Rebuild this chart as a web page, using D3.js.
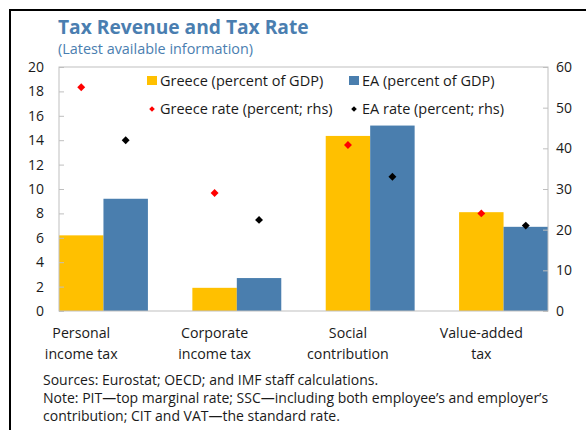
<!DOCTYPE html>
<html>
<head>
<meta charset="utf-8">
<script src="https://cdn.jsdelivr.net/npm/d3@7"></script>
<style>
  body { margin: 0; background: #fff; }
  svg { font-family: "Open Sans", "Noto Sans", sans-serif; }
</style>
</head>
<body>
<svg id="chart" width="586" height="430"></svg>
<script>
const width = 586, height = 430;

// data
const categories = ['Personal income tax', 'Corporate income tax', 'Social contribution', 'Value-added tax'];
const catLabels = [['Personal', 'income tax'], ['Corporate', 'income tax'], ['Social', 'contribution'], ['Value-added', 'tax']];
const greeceGDP = [6.2, 1.9, 14.35, 8.1];
const eaGDP = [9.2, 2.7, 15.2, 6.9];
const greeceRate = [55, 29, 40.8, 24];
const eaRate = [42, 22.4, 33, 21];
const leftTicks = [0, 2, 4, 6, 8, 10, 12, 14, 16, 18, 20];
const rightTicks = [0, 10, 20, 30, 40, 50, 60];

const cGreece = '#ffc000';
const cEA = '#4a7eae';
const textCol = '#1a1a1a';

const plot = { left: 59, right: 548, top: 67, bottom: 311 };

const svg = d3.select('#chart');

// frame lines (left + top)
svg.append('line').attr('x1', 10).attr('x2', 10).attr('y1', 9).attr('y2', height).attr('stroke', '#000').attr('stroke-width', 2);
svg.append('line').attr('x1', 9).attr('x2', width).attr('y1', 10).attr('y2', 10).attr('stroke', '#000').attr('stroke-width', 2);

// title
svg.append('text').attr('x', 58).attr('y', 34)
  .text('Tax Revenue and Tax Rate')
  .style('font-size', '19.2px').style('font-weight', 'bold').style('fill', '#4a7eb0');
svg.append('text').attr('x', 58).attr('y', 54)
  .text('(Latest available information)')
  .style('font-size', '14.4px').style('fill', '#4a7eb0');

// scales
const x = d3.scaleBand().domain(categories).range([plot.left, plot.right]).paddingInner(1/3).paddingOuter(0);
const sub = d3.scaleBand().domain(['gr', 'ea']).range([0, x.bandwidth()]);
const yL = d3.scaleLinear().domain([0, 20]).range([plot.bottom, plot.top]);
const yR = d3.scaleLinear().domain([0, 60]).range([plot.bottom, plot.top]);

// bars
const g = svg.append('g');
g.selectAll('rect.gr').data(greeceGDP).enter().append('rect')
  .attr('x', (d, i) => x(categories[i]) + sub('gr'))
  .attr('y', d => yL(d))
  .attr('width', sub.bandwidth())
  .attr('height', d => yL(0) - yL(d))
  .attr('fill', cGreece);
g.selectAll('rect.ea').data(eaGDP).enter().append('rect')
  .attr('x', (d, i) => x(categories[i]) + sub('ea'))
  .attr('y', d => yL(d))
  .attr('width', sub.bandwidth())
  .attr('height', d => yL(0) - yL(d))
  .attr('fill', cEA);

// plot frame
svg.append('rect')
  .attr('x', plot.left).attr('y', plot.top)
  .attr('width', plot.right - plot.left).attr('height', plot.bottom - plot.top)
  .attr('fill', 'none').attr('stroke', '#bfbfbf').attr('stroke-width', 1);

// axes
const axL = svg.append('g').attr('transform', `translate(${plot.left},0)`)
  .call(d3.axisRight(yL).tickValues(leftTicks).tickSize(5).tickFormat(d3.format('d')));
axL.select('.domain').remove();
axL.selectAll('line').attr('stroke', '#bfbfbf');
axL.selectAll('text').attr('x', -15).attr('text-anchor', 'end').style('font-size', '14px').style('fill', textCol).style('font-family', '"Open Sans", sans-serif');

const axR = svg.append('g').attr('transform', `translate(${plot.right},0)`)
  .call(d3.axisLeft(yR).tickValues(rightTicks).tickSize(5).tickFormat(d3.format('d')));
axR.select('.domain').remove();
axR.selectAll('line').attr('stroke', '#bfbfbf');
axR.selectAll('text').attr('x', 8).attr('text-anchor', 'start').style('font-size', '14px').style('fill', textCol).style('font-family', '"Open Sans", sans-serif');

// diamonds
const diamond = d3.symbol().type(d3.symbolDiamond2).size(40);
g.selectAll('path.gr').data(greeceRate).enter().append('path')
  .attr('d', diamond)
  .attr('transform', (d, i) => `translate(${x(categories[i]) + sub('gr') + sub.bandwidth() / 2},${yR(d)})`)
  .attr('fill', '#ff0000');
g.selectAll('path.ea').data(eaRate).enter().append('path')
  .attr('d', diamond)
  .attr('transform', (d, i) => `translate(${x(categories[i]) + sub('ea') + sub.bandwidth() / 2},${yR(d)})`)
  .attr('fill', '#000');

// category labels
catLabels.forEach((lines, i) => {
  const cx = x(categories[i]) + sub('gr') + sub.bandwidth() / 2;
  lines.forEach((t, j) => {
    svg.append('text').attr('x', cx).attr('y', 338 + j * 21)
      .attr('text-anchor', 'middle').text(t)
      .style('font-size', '14.2px').style('fill', textCol);
  });
});

// legend
const legend = [
  { label: 'Greece (percent of GDP)', color: cGreece, type: 'rect', x: 147, y: 81 },
  { label: 'EA (percent of GDP)', color: cEA, type: 'rect', x: 349, y: 81 },
  { label: 'Greece rate (percent; rhs)', color: '#ff0000', type: 'dia', x: 147, y: 109 },
  { label: 'EA rate (percent; rhs)', color: '#000', type: 'dia', x: 349, y: 109 }
];
const lg = svg.append('g');
legend.forEach(l => {
  if (l.type === 'rect') {
    lg.append('rect').attr('x', l.x).attr('y', l.y - 5).attr('width', 10).attr('height', 9).attr('fill', l.color);
  } else {
    lg.append('path').attr('d', d3.symbol().type(d3.symbolDiamond2).size(20))
      .attr('transform', `translate(${l.x + 5},${l.y})`).attr('fill', l.color);
  }
  lg.append('text').attr('x', l.x + 13).attr('y', l.y + 5).text(l.label)
    .style('font-size', '14.5px').style('fill', textCol);
});

// notes
const notes = [
  'Sources: Eurostat; OECD; and IMF staff calculations.',
  'Note: PIT\u2014top marginal rate; SSC\u2014including both employee\u2019s and employer\u2019s',
  'contribution; CIT and VAT\u2014the standard rate.'
];
svg.selectAll('text.note').data(notes).enter().append('text')
  .attr('class', 'note')
  .attr('x', 43).attr('y', (d, i) => 385 + i * 18)
  .text(d => d)
  .style('font-size', '14px').style('fill', textCol);
</script>
</body>
</html>
